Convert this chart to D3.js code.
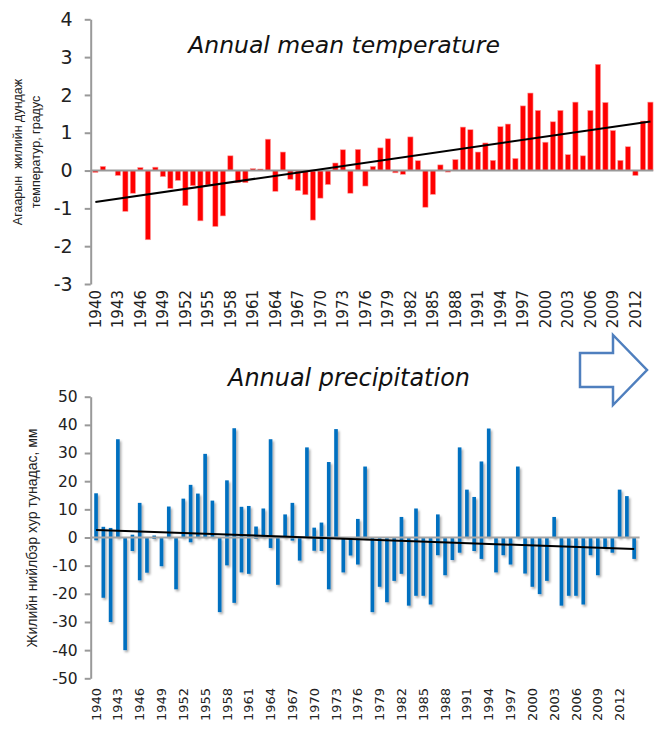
<!DOCTYPE html>
<html>
<head>
<meta charset="utf-8">
<script src="https://cdn.jsdelivr.net/npm/d3@7"></script>
<style>
  body { margin: 0; background: #fff; }
  svg { display: block; }
</style>
</head>
<body>
<svg width="658" height="737"></svg>
<script>
const years = d3.range(1940, 2015);
const tickYears = [1940, 1943, 1946, 1949, 1952, 1955, 1958, 1961, 1964, 1967, 1970, 1973,
  1976, 1979, 1982, 1985, 1988, 1991, 1994, 1997, 2000, 2003, 2006, 2009, 2012];

// temperature anomaly, degrees
const tempValues = [
  -0.05, 0.11, 0, -0.13, -1.08, -0.6, 0.08, -1.83, 0.09, -0.16,
  -0.47, -0.26, -0.93, -0.4, -1.33, -0.38, -1.48, -1.2, 0.39, -0.32,
  -0.32, 0.05, 0.04, 0.83, -0.55, 0.49, -0.23, -0.53, -0.64, -1.31,
  -0.73, -0.37, 0.2, 0.55, -0.6, 0.56, -0.41, 0.11, 0.6, 0.84,
  -0.06, -0.1, 0.89, 0.26, -0.97, -0.63, 0.15, -0.04, 0.29, 1.15,
  1.08, 0.49, 0.73, 0.27, 1.16, 1.23, 0.32, 1.71, 2.05, 1.59,
  0.75, 1.29, 1.59, 0.42, 1.81, 0.39, 1.59, 2.81, 1.8, 1.06,
  0.27, 0.63, -0.13, 1.31, 1.81
];
const tempTrend = [-0.83, 1.30];
const tempTicks = [-3, -2, -1, 0, 1, 2, 3, 4];

// precipitation anomaly, mm (bars float between lower and upper)
const precipUpper = [
  15.7, 3.8, 3.4, 34.9, 0, 1, 12.3, 0, 0.7, 0,
  11, 0, 13.8, 18.7, 15.6, 29.7, 13.1, 0, 20.3, 38.8,
  10.9, 11.2, 3.9, 10.3, 34.9, 0, 8.2, 12.3, 0, 32,
  3.5, 5.3, 26.8, 38.5, 0, 0, 6.6, 25.2, 0, 0,
  0, 0, 7.3, 0, 10.3, 0, 0, 8.2, 0, 0,
  32, 17, 14.4, 27, 38.7, 0, 0, 0, 25.2, 0,
  0, 0, 0, 7.3, 0, 0, 0, 0, 0, 0,
  0, 0, 17, 14.7, 0
];
const precipLower = [
  -1, -21.4, -30, 0, -40, -4.8, -15.2, -12.5, -0.5, -10.2,
  0, -18.4, 0, -1.7, 0, 0, 0, -26.5, -9.9, -23.2,
  -12.4, -12.9, -0.5, 0, -3.7, -16.8, 0, -1.1, -8.2, 0,
  -4.7, -4.8, -18.4, 0, -12.4, -6.4, -9.6, 0, -26.5, -17.5,
  -23, -15.4, -12.9, -24.2, -20.7, -20.7, -23.8, -6.3, -13.4, -8,
  -5.4, 0, -4.8, -7.6, 0, -12.4, -6.3, -9.6, 0, -12.8,
  -17.5, -20.1, -15.4, 0, -24.2, -20.7, -20.7, -23.8, -6.3, -13.4,
  -4, -5.4, 0, 0, -7.6
];
const precipTrend = [2.7, -4.1];
const precipTicks = [-50, -40, -30, -20, -10, 0, 10, 20, 30, 40, 50];

const svg = d3.select('svg');
const axisGray = '#999';
const tickFont = '"DejaVu Sans", sans-serif';

const defs = svg.append('defs');
defs.append('filter')
  .attr('id', 'shadow')
  .attr('x', '-50%').attr('y', '-10%')
  .attr('width', '250%').attr('height', '130%')
  .append('feDropShadow')
    .attr('dx', 1.5)
    .attr('dy', 2)
    .attr('stdDeviation', 1.3)
    .attr('flood-color', '#000')
    .attr('flood-opacity', 0.35);

function title(text, x0, x1, baseline) {
  const t = svg.append('text')
    .attr('x', (x0 + x1) / 2)
    .attr('y', baseline)
    .attr('text-anchor', 'middle')
    .attr('font-family', tickFont)
    .attr('font-style', 'italic')
    .attr('font-size', 24)
    .attr('fill', '#111')
    .text(text);
  const w = t.node().getComputedTextLength();
  t.attr('font-size', 24 * (x1 - x0) / w);
}

function styleAxis(g, fontSize) {
  g.select('.domain').attr('stroke', axisGray).attr('stroke-width', 2);
  g.selectAll('.tick line').attr('stroke', axisGray).attr('stroke-width', 2);
  g.selectAll('.tick text')
    .attr('font-family', tickFont)
    .attr('font-size', fontSize)
    .attr('fill', '#222');
}

function xLabels(x, top, fontSize) {
  svg.append('g')
    .selectAll('text')
    .data(tickYears)
    .join('text')
      .attr('transform', d => `translate(${x(d) + x.bandwidth() / 2}, ${top}) rotate(-90)`)
      .attr('dy', '0.35em')
      .attr('text-anchor', 'end')
      .attr('font-family', tickFont)
      .attr('font-size', fontSize)
      .attr('fill', '#222')
      .text(d => d);
}

// ---- top: temperature
const xT = d3.scaleBand()
  .domain(years)
  .range([90.5, 655.3])
  .padding(0.3);

const yT = d3.scaleLinear()
  .domain([-3, 4])
  .range([284, 19.3]);

title('Annual mean temperature', 188, 500, 53);

svg.append('g')
  .attr('transform', 'translate(90.7, 0)')
  .call(d3.axisLeft(yT).tickValues(tempTicks).tickFormat(d => String(d))
    .tickSize(6).tickSizeOuter(0).tickPadding(12))
  .call(g => styleAxis(g, 19));

svg.append('g')
  .selectAll('rect')
  .data(years)
  .join('rect')
    .attr('x', d => xT(d))
    .attr('width', xT.bandwidth())
    .attr('y', (d, i) => yT(Math.max(0, tempValues[i])))
    .attr('height', (d, i) => Math.abs(yT(tempValues[i]) - yT(0)))
    .attr('fill', '#ff0000')
    .attr('stroke', '#ff9a9a')
    .attr('stroke-width', 0.6);

svg.append('line')
  .attr('x1', 90.7)
  .attr('x2', xT.range()[1] - 2)
  .attr('y1', yT(0))
  .attr('y2', yT(0))
  .attr('stroke', axisGray)
  .attr('stroke-width', 2);

svg.append('line')
  .attr('x1', xT(1940) + xT.bandwidth() / 2)
  .attr('x2', xT(2014) + xT.bandwidth() / 2)
  .attr('y1', yT(tempTrend[0]))
  .attr('y2', yT(tempTrend[1]))
  .attr('stroke', '#000')
  .attr('stroke-width', 2);

xLabels(xT, 290, 15);

const yTitle = svg.append('text')
  .attr('transform', 'translate(22, 152) rotate(-90)')
  .attr('text-anchor', 'middle')
  .attr('font-family', '"Liberation Sans", Arial, sans-serif')
  .attr('font-size', 12.5)
  .attr('fill', '#222');
yTitle.append('tspan').attr('x', 0).attr('dy', 0).text('Агаарын\u00a0 жилийн дундаж');
yTitle.append('tspan').attr('x', 0).attr('dy', 18).text('температур, градус');

// ---- bottom: precipitation
const xP = d3.scaleBand()
  .domain(years)
  .range([90.6, 639.6])
  .padding(0.5);

const yP = d3.scaleLinear()
  .domain([-50, 50])
  .range([678.3, 396.7]);

title('Annual precipitation', 228, 470, 386);

svg.append('g')
  .attr('transform', 'translate(90.7, 0)')
  .call(d3.axisLeft(yP).tickValues(precipTicks).tickFormat(d => String(d))
    .tickSize(6).tickSizeOuter(0).tickPadding(7))
  .call(g => styleAxis(g, 15.5));

svg.append('g')
  .attr('filter', 'url(#shadow)')
  .selectAll('rect')
  .data(years)
  .join('rect')
    .attr('x', d => xP(d))
    .attr('width', xP.bandwidth())
    .attr('y', (d, i) => yP(precipUpper[i]))
    .attr('height', (d, i) => yP(precipLower[i]) - yP(precipUpper[i]))
    .attr('fill', '#0070c0');

svg.append('line')
  .attr('x1', 90.7)
  .attr('x2', xP.range()[1])
  .attr('y1', yP(0))
  .attr('y2', yP(0))
  .attr('stroke', '#a6a6a6')
  .attr('stroke-width', 2);

svg.append('line')
  .attr('x1', xP(1940) + xP.bandwidth() / 2)
  .attr('x2', xP(2014) + xP.bandwidth() / 2)
  .attr('y1', yP(precipTrend[0]))
  .attr('y2', yP(precipTrend[1]))
  .attr('stroke', '#000')
  .attr('stroke-width', 2);

xLabels(xP, 688, 13);

svg.append('text')
  .attr('transform', 'translate(32, 538) rotate(-90)')
  .attr('dy', '0.35em')
  .attr('text-anchor', 'middle')
  .attr('font-family', '"Liberation Sans", Arial, sans-serif')
  .attr('font-size', 14)
  .attr('fill', '#222')
  .text('Жилийн нийлбэр хур тунадас, мм');

// block arrow
svg.append('polygon')
  .attr('points', '580,353 613,353 613,335 647,370 613,405 613,387 580,387')
  .attr('fill', '#fff')
  .attr('stroke', '#4f7fbe')
  .attr('stroke-width', 2.5);
</script>
</body>
</html>
